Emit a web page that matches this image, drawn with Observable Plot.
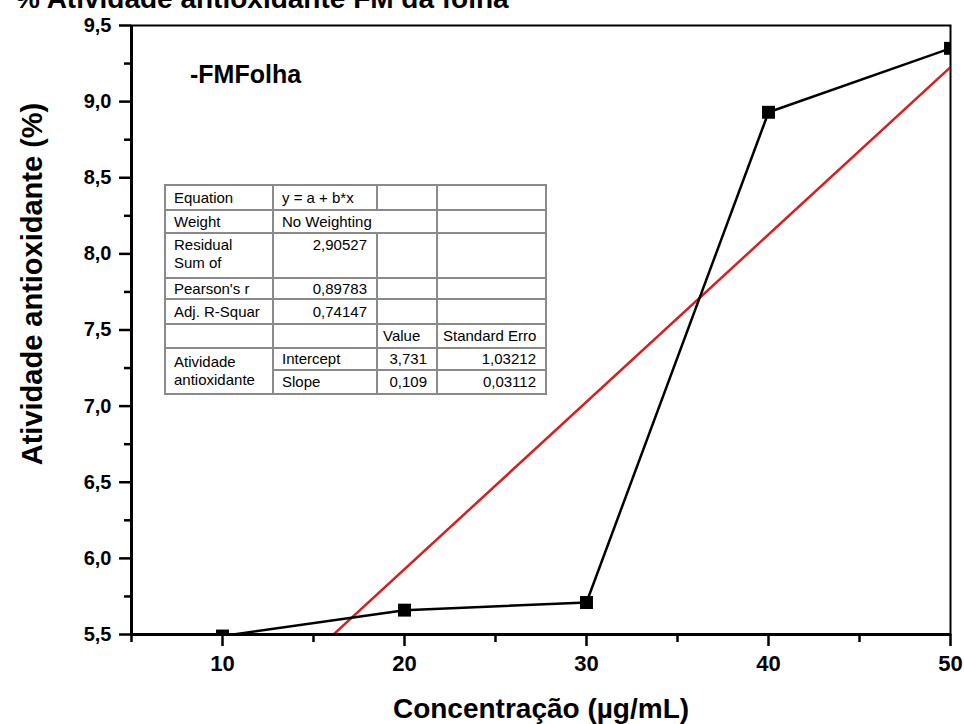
<!DOCTYPE html>
<html><head><meta charset="utf-8">
<script src="https://cdn.jsdelivr.net/npm/d3@7"></script>
<script src="https://cdn.jsdelivr.net/npm/@observablehq/plot@0.6"></script>
<style>
body{margin:0;background:#fff;font-family:"Liberation Sans",Arial,sans-serif;color:#000;}
#wrap{position:relative;width:964px;height:724px;overflow:hidden;background:#fff;}
#chart{position:absolute;left:0;top:0;}
.lbl{position:absolute;font-weight:bold;white-space:nowrap;line-height:28px;}
#title{left:15px;top:-15px;font-size:28px;}
#xlabel{left:541px;top:695px;font-size:28px;transform:translateX(-50%);}
#ylabel{left:32px;top:284px;font-size:29px;transform:translate(-50%,-50%) rotate(-90deg);}
#series{left:190px;top:60px;font-size:25px;}
#tbl{position:absolute;left:164px;top:184px;border-collapse:collapse;table-layout:fixed;border:2px solid #000;font-size:15px;line-height:18px;background:#fff;}
#tbl td{border:2px solid #8a8a8a;padding:0 5px 0 8px;overflow:hidden;white-space:nowrap;vertical-align:middle;}
#tbl td.num{text-align:right;padding-right:9px;}
#tbl td.wrap{white-space:normal;vertical-align:top;padding-top:2px;}
#tbl td.wrapc{white-space:normal;}
#tbl td.s{padding-left:5px;}
</style></head><body>
<div id="wrap">
<div id="chart"></div>
<div id="title" class="lbl"></div>
<div id="series" class="lbl"></div>
<div id="xlabel" class="lbl"></div>
<div id="ylabel" class="lbl"></div>
<table id="tbl"></table>
</div>
<script>
// ---- data ----
const concentration = [10, 20, 30, 40, 50];
const activity = [5.49, 5.66, 5.71, 8.93, 9.35];
const xMajorTicks = [10, 20, 30, 40, 50];
const xMinorTicks = [5, 15, 25, 35, 45];
const yMajorTicks = [5.5, 6.0, 6.5, 7.0, 7.5, 8.0, 8.5, 9.0, 9.5];
const yMinorTicks = [5.75, 6.25, 6.75, 7.25, 7.75, 8.25, 8.75, 9.25];
const titleText = "% Atividade antioxidante FM da folha";
const seriesLabel = "-FMFolha";
const xTitle = "Concentração (µg/mL)";
const yTitle = "Atividade antioxidante (%)";
// fit table
const fitLabels = ["Equation", "Weight", "Residual Sum of Squares", "Pearson's r", "Adj. R-Squar"];
const fitValues = ["y = a + b*x", "No Weighting", "2,90527", "0,89783", "0,74147"];
const paramHeader = ["Value", "Standard Erro"];
const paramGroup = "Atividade antioxidante";
const paramNames = ["Intercept", "Slope"];
const paramValues = ["3,731", "0,109"];
const paramErrors = ["1,03212", "0,03112"];

const data = concentration.map((x, i) => ({x, y: activity[i]}));
const fmtY = d => d.toFixed(1).replace(".", ",");

const plot = Plot.plot({
  width: 964, height: 724,
  marginLeft: 131, marginRight: 14, marginTop: 25, marginBottom: 90,
  style: {fontFamily: "Liberation Sans, Arial, sans-serif", background: "white", color: "black", overflow: "visible"},
  x: {domain: [5, 50]},
  y: {domain: [5.5, 9.5]},
  marks: [
    Plot.frame({stroke: "black", strokeWidth: 2}),
    Plot.linearRegressionY(data, {x: "x", y: "y", stroke: "#d81e1e", strokeWidth: 2.5, ci: 0, clip: true}),
    Plot.line(data, {x: "x", y: "y", stroke: "black", strokeWidth: 2.5, clip: true}),
    Plot.dot(data, {x: "x", y: "y", symbol: "square", fill: "black", stroke: "none", r: 7.3, clip: true}),
    Plot.axisX({ticks: xMinorTicks, tickSize: 8, text: null, label: null, strokeWidth: 2.5}),
    Plot.axisX({ticks: xMajorTicks, tickSize: 12, tickPadding: 9, fontSize: 22, fontWeight: "bold", label: null, strokeWidth: 2.5}),
    Plot.axisY({ticks: yMinorTicks, tickSize: 7, text: null, label: null, strokeWidth: 2.5}),
    Plot.axisY({ticks: yMajorTicks, tickSize: 12, tickPadding: 8, tickFormat: fmtY, fontSize: 20, fontWeight: "bold", label: null, strokeWidth: 2.5}),
    Plot.ruleX([5], {stroke: "black", strokeWidth: 3}),
    Plot.ruleY([5.5], {stroke: "black", strokeWidth: 3})
  ]
});
document.getElementById("chart").appendChild(plot);

document.getElementById("title").textContent = titleText;
document.getElementById("series").textContent = seriesLabel;
document.getElementById("xlabel").textContent = xTitle;
document.getElementById("ylabel").textContent = yTitle;

// table
const colW = [108, 104, 60, 109];
const rowH = [25, 23, 45, 21, 25, 24, 22, 24];
const tbl = document.getElementById("tbl");
const cg = document.createElement("colgroup");
colW.forEach(w => { const c = document.createElement("col"); c.style.width = w + "px"; cg.appendChild(c); });
tbl.appendChild(cg);
function row(h, cells) {
  const tr = document.createElement("tr");
  tr.style.height = h + "px";
  cells.forEach(c => {
    const td = document.createElement("td");
    if (c.cls) td.className = c.cls;
    if (c.colspan) td.colSpan = c.colspan;
    if (c.rowspan) td.rowSpan = c.rowspan;
    if (c.inner) {
      const d = document.createElement("div");
      d.style.height = c.inner + "px"; d.style.width = "78px"; d.style.overflow = "hidden";
      d.textContent = c.t; td.appendChild(d);
    }
    else td.textContent = c.t || "";
    tr.appendChild(td);
  });
  tbl.appendChild(tr);
}
row(rowH[0], [{t: fitLabels[0]}, {t: fitValues[0]}, {}, {}]);
row(rowH[1], [{t: fitLabels[1]}, {t: fitValues[1], colspan: 2}, {}]);
row(rowH[2], [{t: fitLabels[2], cls: "wrap", inner: 40}, {t: fitValues[2], cls: "num"}, {}, {}]);
tbl.rows[2].cells[1].style.verticalAlign = "top";
tbl.rows[2].cells[1].style.paddingTop = "2px";
row(rowH[3], [{t: fitLabels[3]}, {t: fitValues[3], cls: "num"}, {}, {}]);
row(rowH[4], [{t: fitLabels[4]}, {t: fitValues[4], cls: "num"}, {}, {}]);
row(rowH[5], [{}, {}, {t: paramHeader[0], cls: "s"}, {t: paramHeader[1], cls: "s"}]);
row(rowH[6], [{t: paramGroup, cls: "wrapc", rowspan: 2}, {t: paramNames[0]}, {t: paramValues[0], cls: "num"}, {t: paramErrors[0], cls: "num"}]);
row(rowH[7], [{t: paramNames[1]}, {t: paramValues[1], cls: "num"}, {t: paramErrors[1], cls: "num"}]);
</script>
</body></html>
